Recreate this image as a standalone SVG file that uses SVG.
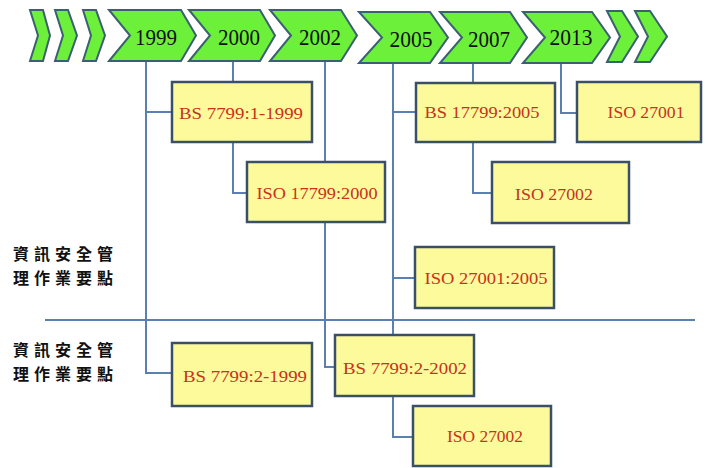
<svg xmlns="http://www.w3.org/2000/svg" width="708" height="468" viewBox="0 0 708 468">
<style>
.chev{fill:#6cf03a;stroke:#3b6070;stroke-width:2;stroke-linejoin:miter}
.yr{font-family:"Liberation Serif",serif;font-size:24px;fill:#111;text-anchor:middle}
.box{fill:#fdfa9c;stroke:#3a5069;stroke-width:2.5}
.lbl{font-family:"Liberation Serif",serif;font-size:17px;fill:#c8321a;text-anchor:middle}
.cn{font-family:"Noto Sans CJK TC","Noto Sans CJK SC",sans-serif;font-size:16px;font-weight:bold;fill:#111;letter-spacing:5px}
.con{fill:none;stroke:#5a7fb0;stroke-width:2}
</style>
<rect width="708" height="468" fill="#fff"/>
<g id="connectors">
<path class="con" d="M45,320H695"/>
<path class="con" d="M146,61V373H172M146,112H172"/>
<path class="con" d="M233,61V82M233,142V193H247"/>
<path class="con" d="M325,61V162M325,222V367H335"/>
<path class="con" d="M393,63V335M393,112H416M393,278H415M393,396V437H413"/>
<path class="con" d="M473,63V83M473,142V193H492"/>
<path class="con" d="M561,63V113H577"/>
</g>
<g id="timeline">
<polygon class="chev" points="30,10 43,10 50,35.5 43,61 30,61 38,35.5"/>
<polygon class="chev" points="55,10 68,10 77,35.5 68,61 55,61 63,35.5"/>
<polygon class="chev" points="83,10 96,10 105,35.5 96,61 83,61 91,35.5"/>
<g id="y1999"><polygon class="chev" points="109,10 181,10 196,35.5 181,61 109,61 130,35.5"/><text class="yr" x="156" y="45" textLength="42" lengthAdjust="spacingAndGlyphs">1999</text></g>
<g id="y2000"><polygon class="chev" points="189,10 260,10 275,35.5 260,61 189,61 210,35.5"/><text class="yr" x="239" y="45" textLength="42" lengthAdjust="spacingAndGlyphs">2000</text></g>
<g id="y2002"><polygon class="chev" points="270,10 341,10 357,35.5 341,61 270,61 291,35.5"/><text class="yr" x="320" y="45" textLength="42" lengthAdjust="spacingAndGlyphs">2002</text></g>
<g id="y2005"><polygon class="chev" points="359,12 430,12 448,37.5 430,63 359,63 382,37.5"/><text class="yr" x="411" y="47" textLength="43" lengthAdjust="spacingAndGlyphs">2005</text></g>
<g id="y2007"><polygon class="chev" points="440,12 510,12 527,37.5 510,63 440,63 462,37.5"/><text class="yr" x="489" y="47" textLength="42" lengthAdjust="spacingAndGlyphs">2007</text></g>
<g id="y2013"><polygon class="chev" points="523,12 592,12 610,37.5 592,63 523,63 545,37.5"/><text class="yr" x="571" y="45" textLength="43" lengthAdjust="spacingAndGlyphs">2013</text></g>
<polygon class="chev" points="607,11 622,11 638,36.5 622,62 607,62 620,36.5"/>
<polygon class="chev" points="635,11 650,11 667,36.5 650,62 635,62 648,36.5"/>
</g>
<g id="n-bs7799-1-1999"><rect class="box" x="172" y="82" width="140" height="60"/><text class="lbl" x="241" y="119" textLength="124" lengthAdjust="spacingAndGlyphs">BS 7799:1-1999</text></g>
<g id="n-iso17799-2000"><rect class="box" x="247" y="162" width="138" height="60"/><text class="lbl" x="317" y="199" textLength="121" lengthAdjust="spacingAndGlyphs">ISO 17799:2000</text></g>
<g id="n-bs17799-2005"><rect class="box" x="416" y="83" width="139" height="59"/><text class="lbl" x="482" y="118" textLength="115" lengthAdjust="spacingAndGlyphs">BS 17799:2005</text></g>
<g id="n-iso27001"><rect class="box" x="577" y="82" width="124" height="60"/><text class="lbl" x="646" y="118" textLength="77" lengthAdjust="spacingAndGlyphs">ISO 27001</text></g>
<g id="n-iso27002-a"><rect class="box" x="492" y="162" width="137" height="61"/><text class="lbl" x="554" y="200" textLength="78" lengthAdjust="spacingAndGlyphs">ISO 27002</text></g>
<g id="n-iso27001-2005"><rect class="box" x="415" y="247" width="139" height="61"/><text class="lbl" x="486" y="284" textLength="123" lengthAdjust="spacingAndGlyphs">ISO 27001:2005</text></g>
<g id="n-bs7799-2-1999"><rect class="box" x="172" y="343" width="140" height="63"/><text class="lbl" x="245" y="382" textLength="124" lengthAdjust="spacingAndGlyphs">BS 7799:2-1999</text></g>
<g id="n-bs7799-2-2002"><rect class="box" x="335" y="335" width="139" height="61"/><text class="lbl" x="405" y="374" textLength="124" lengthAdjust="spacingAndGlyphs">BS 7799:2-2002</text></g>
<g id="n-iso27002-b"><rect class="box" x="413" y="406" width="138" height="60"/><text class="lbl" x="485" y="442" textLength="76" lengthAdjust="spacingAndGlyphs">ISO 27002</text></g>
<g id="label-top"><text class="cn" x="13" y="260">資訊安全管</text><text class="cn" x="13" y="284">理作業要點</text></g>
<g id="label-bottom"><text class="cn" x="13" y="356">資訊安全管</text><text class="cn" x="13" y="380">理作業要點</text></g>
</svg>
